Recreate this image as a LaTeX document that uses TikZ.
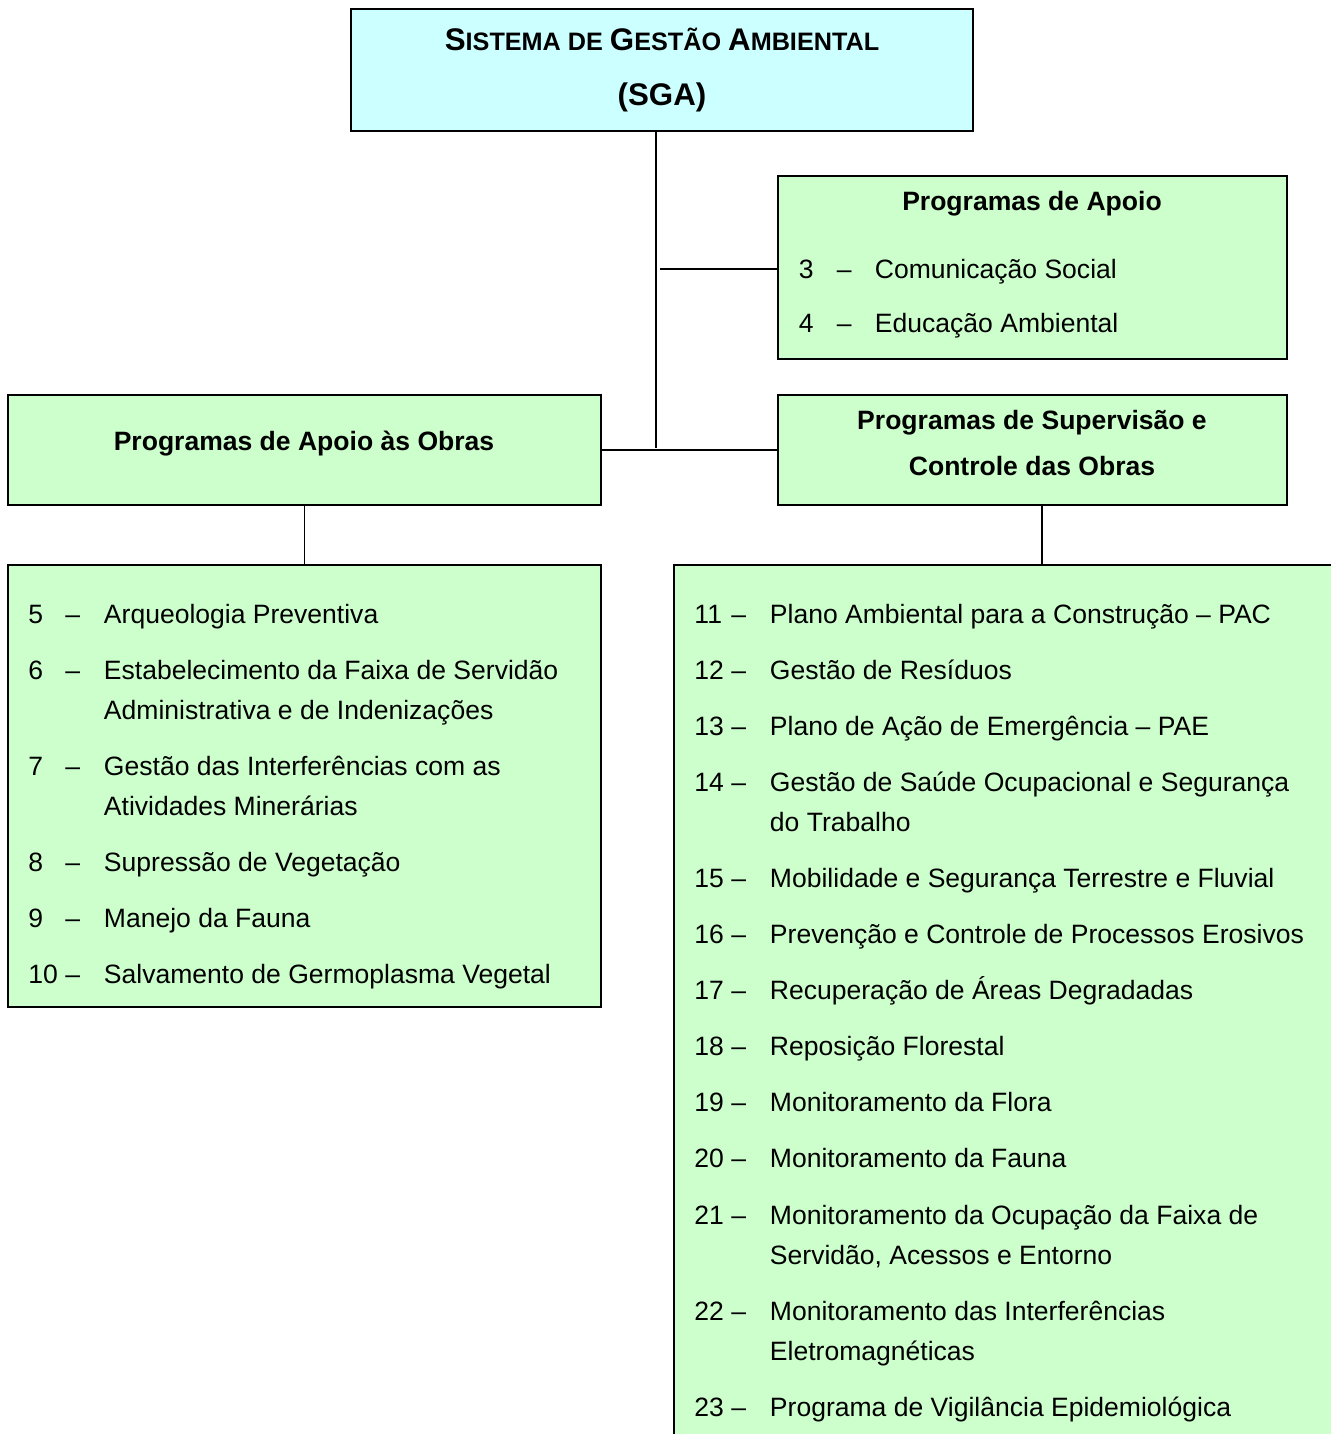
\documentclass[tikz,border=0pt]{standalone}
\usepackage{fontspec}
\setmainfont{Liberation Sans}
\usetikzlibrary{positioning,calc}
\definecolor{sgacyan}{HTML}{CCFFFF}
\definecolor{progreen}{HTML}{CCFFCC}
\newcommand{\sgacap}[1]{{\fontsize{17.8}{31.3}\selectfont #1}}

\begin{document}
\begin{tikzpicture}[line width=1.1pt,
  box/.style={draw,inner sep=0pt,align=center},
  itemtxt/.style={anchor=base west,inner sep=0pt,font=\fontsize{15.1}{22.8}\selectfont},
  head/.style={align=center,font=\bfseries\fontsize{15.1}{26.2}\selectfont}]
\clip (0,0) rectangle (26.62,-28.68);
% boxes
\node[box,fill=sgacyan,minimum width=12.44cm,minimum height=2.44cm,
  font=\bfseries\fontsize{14.35}{31.3}\selectfont] (sga) at (13.24,-1.40)
  {\sgacap{S}ISTEMA DE \sgacap{G}ESTÃO \sgacap{A}MBIENTAL\\\sgacap{(SGA)}};
\node[box,fill=progreen,minimum width=10.18cm,minimum height=3.66cm] (apoio) at (20.65,-5.35) {};
\node[head] (apoiotit) at (20.64,-4.08) {Programas de Apoio};
\node[box,fill=progreen,minimum width=11.86cm,minimum height=2.20cm] (obras) at (6.09,-9.00) {};
\node[head] (obrastit) at (6.08,-8.88) {Programas de Apoio às Obras};
\node[box,fill=progreen,minimum width=10.18cm,minimum height=2.20cm] (superv) at (20.65,-9.00) {};
\node[head] (supervtit) at (20.64,-8.86) {Programas de Supervisão e\\Controle das Obras};
\node[box,fill=progreen,minimum width=11.86cm,minimum height=8.84cm] (obraslist) at (6.09,-15.72) {};
\node[box,fill=progreen,minimum width=13.80cm,minimum height=18.00cm] (supervlist) at (20.38,-20.30) {};

% connectors
\coordinate (trunk) at (13.12,-8.96);
\coordinate (sdrop) at (20.84,-10.10);
\draw (sga.south -| trunk) -- (trunk);
\draw ($(trunk |- apoio.west)+(0.08,-0.03)$) -- ($(apoio.west)+(0,-0.03)$);
\draw (obras.east) -- (superv.west);
\draw (obras.south) -- (obraslist.north);
\draw (sdrop) -- (sdrop |- supervlist.north);

% Programas de Apoio
\foreach \n/\y/\t in {3/-5.56/Comunicação Social,4/-6.64/Educação Ambiental}{
  \node[itemtxt] (anum\n) at (15.96,\y) {\n};
  \node[itemtxt] (adash\n) at (16.72,\y) {–};
  \node[itemtxt] (atxt\n) at (17.48,\y) {\t};
}

% apoio as obras
\foreach \n/\y/\t in {5/-12.46/Arqueologia Preventiva,
  6/-13.58/Estabelecimento da Faixa de Servidão,
  7/-15.50/Gestão das Interferências com as,
  8/-17.42/Supressão de Vegetação,
  9/-18.54/Manejo da Fauna,
  10/-19.66/Salvamento de Germoplasma Vegetal}{
  \node[itemtxt] (lnum\n) at (0.55,\y) {\n};
  \node[itemtxt] (ldash\n) at (1.29,\y) {–};
  \node[itemtxt] (ltxt\n) at (2.06,\y) {\t};
}
\foreach \i/\y/\t in {6/-14.38/Administrativa e de Indenizações,
  7/-16.30/Atividades Minerárias}{
  \node[itemtxt] (lcont\i) at (2.06,\y) {\t};
}

% supervisao e controle
\foreach \n/\y/\t in {11/-12.46/Plano Ambiental para a Construção – PAC,
  12/-13.58/Gestão de Resíduos,
  13/-14.70/Plano de Ação de Emergência – PAE,
  14/-15.82/Gestão de Saúde Ocupacional e Segurança,
  15/-17.74/Mobilidade e Segurança Terrestre e Fluvial,
  16/-18.86/Prevenção e Controle de Processos Erosivos,
  17/-19.98/Recuperação de Áreas Degradadas,
  18/-21.10/Reposição Florestal,
  19/-22.22/Monitoramento da Flora,
  20/-23.34/Monitoramento da Fauna,
  21/-24.48/Monitoramento da Ocupação da Faixa de,
  22/-26.40/Monitoramento das Interferências,
  23/-28.32/Programa de Vigilância Epidemiológica}{
  \node[itemtxt] (rnum\n) at (13.87,\y) {\n};
  \node[itemtxt] (rdash\n) at (14.61,\y) {–};
  \node[itemtxt] (rtxt\n) at (15.38,\y) {\t};
}
\foreach \i/\y/\t in {14/-16.62/do Trabalho,
  21/-25.28/{Servidão, Acessos e Entorno},
  22/-27.20/Eletromagnéticas}{
  \node[itemtxt] (rcont\i) at (15.38,\y) {\t};
}
\end{tikzpicture}
\end{document}
